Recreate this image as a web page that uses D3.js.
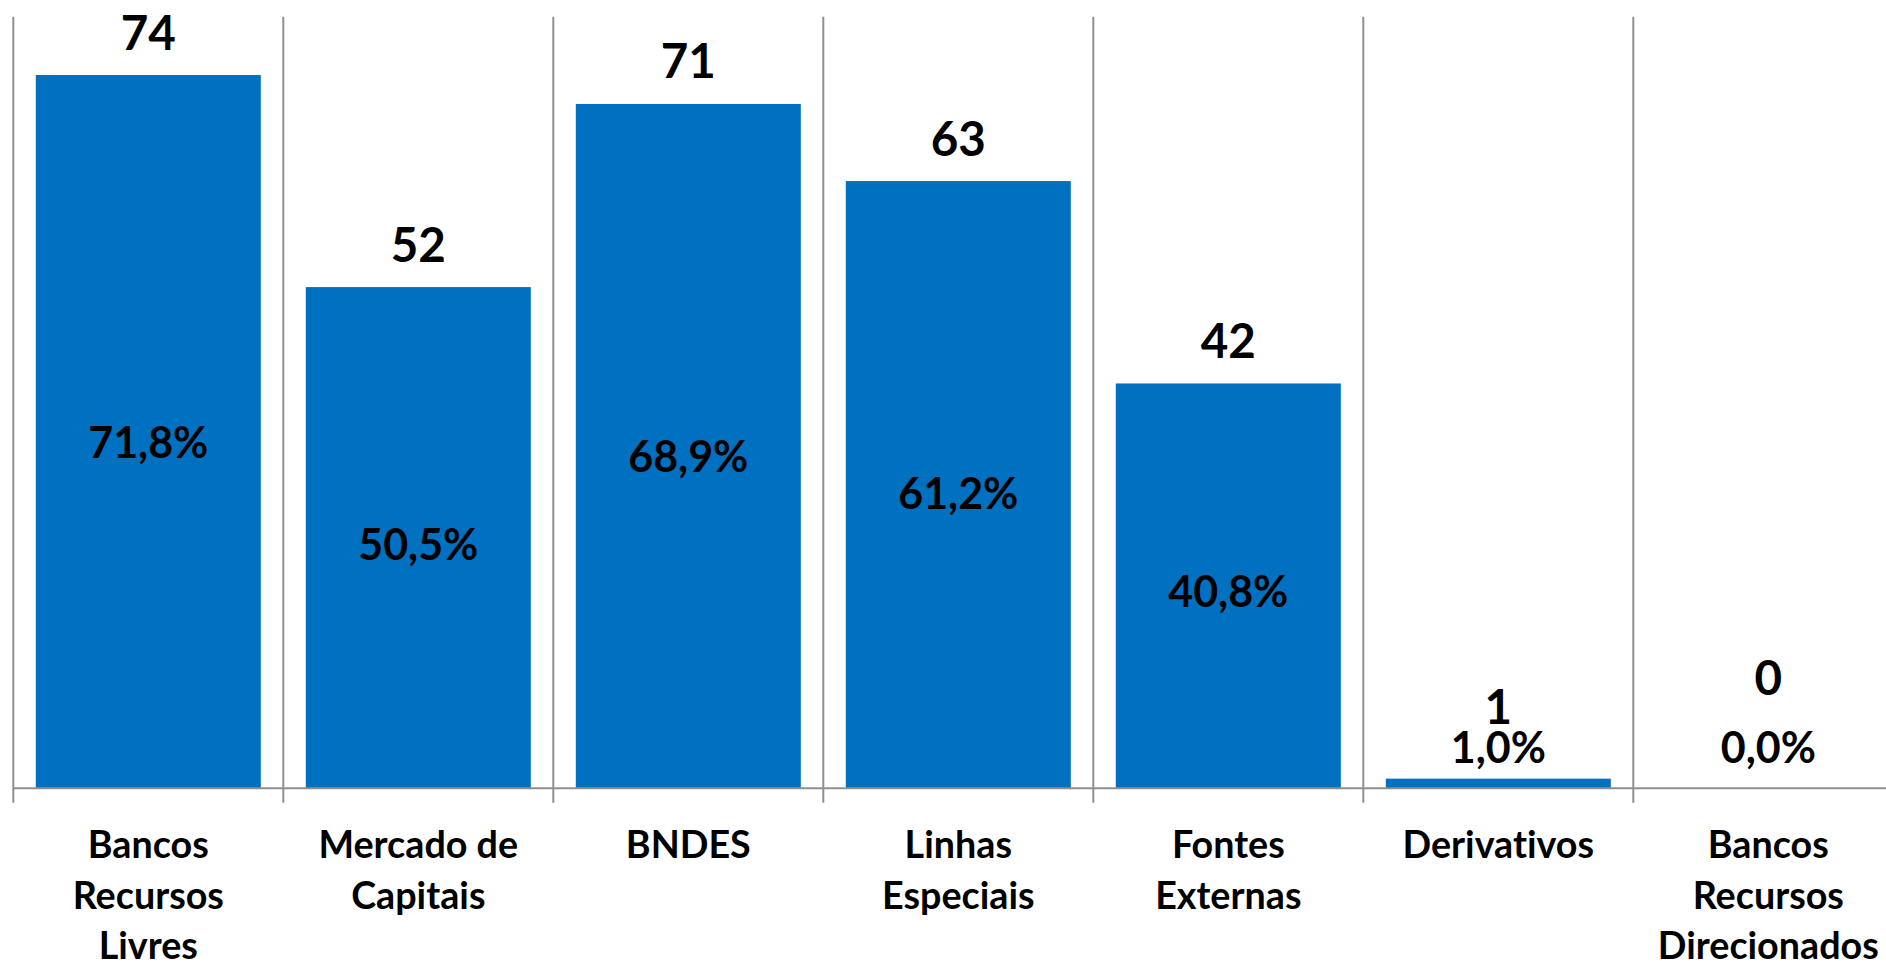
<!DOCTYPE html>
<html>
<head>
<meta charset="utf-8">
<script src="https://cdn.jsdelivr.net/npm/d3@7"></script>
<style>
    html, body { margin: 0; padding: 0; background: #fff; }
    svg { display: block; }
    text { font-family: Lato, "Open Sans", sans-serif; font-weight: bold; fill: #000; font-variant-ligatures: none; }
</style>
</head>
<body>
<svg width="1886" height="965"></svg>
<script>
// chart data
var categories = ["Bancos Recursos Livres", "Mercado de Capitais", "BNDES", "Linhas Especiais",
    "Fontes Externas", "Derivativos", "Bancos Recursos Direcionados"];
var counts = [74, 52, 71, 63, 42, 1, 0];
var percents = [71.8, 50.5, 68.9, 61.2, 40.8, 1.0, 0.0];
var yMax = 80;

var svg = d3.select("svg"),
    margin = {top: 17.2, left: 13.3, bottom: 788.3},
    step = 270;

// band step of 270px, bars take 5/6 of it; the last band runs past the right edge
var x = d3.scaleBand()
    .domain(categories)
    .range([margin.left, margin.left + step * categories.length])
    .paddingInner(1 / 6)
    .paddingOuter(1 / 12);

var y = d3.scaleLinear()
    .domain([0, yMax])
    .range([margin.bottom, margin.top]);

var gridColor = "#8f8f8f";
var half = x.step() * x.paddingOuter();

// vertical separators between categories (run down past the axis as ticks)
var bounds = categories.map(function (d) { return x(d) - half; });
svg.append("g")
    .selectAll("line")
    .data(bounds)
    .enter().append("line")
    .attr("x1", function (d) { return d; })
    .attr("x2", function (d) { return d; })
    .attr("y1", y(yMax) - 0.5)
    .attr("y2", y(0) + 14.5)
    .attr("stroke", gridColor)
    .attr("stroke-width", 2);

// bars
svg.append("g")
    .selectAll("rect")
    .data(counts)
    .enter().append("rect")
    .attr("x", function (d, i) { return x(categories[i]); })
    .attr("y", function (d) { return y(d); })
    .attr("width", x.bandwidth())
    .attr("height", function (d) { return y(0) - y(d); })
    .attr("fill", "#0070C0");

// x axis line
svg.append("line")
    .attr("x1", margin.left)
    .attr("x2", 1886)
    .attr("y1", y(0))
    .attr("y2", y(0))
    .attr("stroke", gridColor)
    .attr("stroke-width", 2);

var fmtPct = function (v) { return v.toFixed(1).replace(".", ",") + "%"; };
var pctSize = 43, valSize = 47.5, catSize = 37.7, capRatio = 0.7165;

// percentage labels, centred in bar height, lifted when the bar is too short
var pctBase = percents.map(function (p) {
    var center = (y(0) + y(p)) / 2;
    return Math.min(center + pctSize * capRatio / 2, y(0) - 25);
});
svg.append("g")
    .selectAll("text")
    .data(percents)
    .enter().append("text")
    .attr("x", function (d, i) { return x(categories[i]) + x.bandwidth() / 2; })
    .attr("y", function (d, i) { return pctBase[i]; })
    .attr("text-anchor", "middle")
    .style("font-size", pctSize + "px")
    .text(fmtPct);

// count labels above bars, pushed up if they would hit the % label
svg.append("g")
    .selectAll("text")
    .data(counts)
    .enter().append("text")
    .attr("x", function (d, i) { return x(categories[i]) + x.bandwidth() / 2; })
    .attr("y", function (d, i) {
        var pctTop = pctBase[i] - pctSize * capRatio;
        var natural = y(d) - 25.5;
        if (natural > pctTop - 8) {
            return pctTop - 8 - (d === 0 ? 29 : 0);
        }
        return natural;
    })
    .attr("text-anchor", "middle")
    .style("font-size", valSize + "px")
    .text(function (d) { return d; });

// category labels, wrapped to the bar width
var cats = svg.append("g")
    .selectAll("text")
    .data(categories)
    .enter().append("text")
    .attr("x", function (d) { return x(d) + x.bandwidth() / 2; })
    .attr("y", 858)
    .attr("text-anchor", "middle")
    .style("font-size", catSize + "px");

cats.each(function (d) {
    var text = d3.select(this),
        words = d.split(" "),
        line = [],
        cx = text.attr("x"),
        tspan = text.append("tspan").attr("x", cx).attr("dy", 0);
    words.forEach(function (w) {
        line.push(w);
        tspan.text(line.join(" "));
        if (tspan.node().getComputedTextLength() > x.bandwidth() && line.length > 1) {
            line.pop();
            tspan.text(line.join(" "));
            line = [w];
            tspan = text.append("tspan").attr("x", cx).attr("dy", 50.5).text(w);
        }
    });
});
</script>
</body>
</html>
